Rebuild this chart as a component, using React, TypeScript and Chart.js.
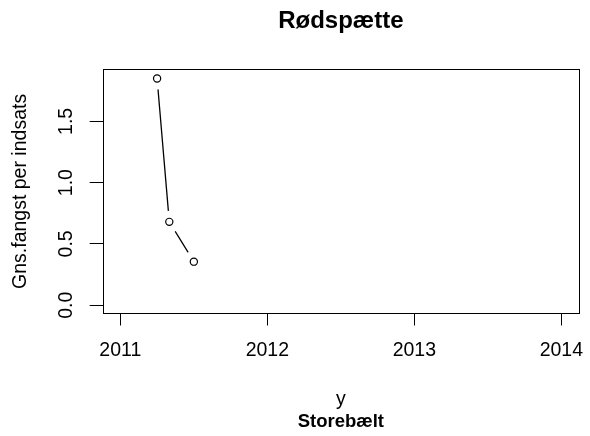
import React, { useEffect, useRef } from "react";
import { Chart, registerables } from "chart.js";

Chart.register(...registerables);

const titleText = "Rødspætte";
const yAxisTitle = "Gns.fangst per indsats";
const xAxisTitle = "y";
const subTitle = "Storebælt";
const xValues = [2011.25, 2011.333, 2011.5];
const yValues = [1.85, 0.68, 0.355];
const xTicks = [2011, 2012, 2013, 2014];
const yTicks = [0, 0.5, 1.0, 1.5];
const yTickLabels = ["0.0", "0.5", "1.0", "1.5"];

const FONT = "'Liberation Sans', Arial, sans-serif";
const X_MIN = 2010.88;
const X_MAX = 2014.12;

const boxPlugin = {
  id: "rbox",
  afterDraw(chart: any) {
    const { ctx, chartArea } = chart;
    ctx.save();
    ctx.strokeStyle = "#000";
    ctx.lineWidth = 1;
    ctx.strokeRect(
      Math.round(chartArea.left) + 0.5,
      Math.round(chartArea.top) + 0.5,
      Math.round(chartArea.right - chartArea.left),
      Math.round(chartArea.bottom - chartArea.top)
    );
    ctx.restore();
  },
};

const noPad = (s: any) => {
  s.paddingLeft = 0;
  s.paddingRight = 0;
};

const titleOnlyAxis = (
  position: string,
  text: string,
  font: any,
  padding: any,
  height: number,
  weight: number
) => ({
  type: "linear",
  position,
  weight,
  min: X_MIN,
  max: X_MAX,
  display: true,
  border: { display: false },
  grid: { display: false, drawTicks: false },
  ticks: { display: false },
  afterFit: (s: any) => {
    s.height = height;
    noPad(s);
  },
  title: { display: true, text, color: "#000", font, padding },
});

export default function App() {
  const ref = useRef<HTMLCanvasElement | null>(null);
  useEffect(() => {
    if (!ref.current) return;
    const pts = xValues.map((x, i) => ({ x, y: yValues[i] }));
    const chart = new Chart(ref.current, {
      type: "line",
      data: {
        datasets: [
          {
            data: pts,
            showLine: false,
            pointRadius: 3.6,
            pointStyle: "circle",
            pointBorderColor: "#000",
            pointBackgroundColor: "#fff",
            pointBorderWidth: 1.2,
            order: 0,
          },
          {
            data: pts,
            borderColor: "#000",
            borderWidth: 1.3,
            pointRadius: 11,
            pointBorderWidth: 0,
            pointBorderColor: "#fff",
            pointBackgroundColor: "#fff",
            order: 1,
          },
        ],
      },
      options: {
        animation: false,
        responsive: false,
        events: [],
        layout: { padding: { left: 0, right: 7, top: 0, bottom: 0 } },
        plugins: {
          legend: { display: false },
          tooltip: { enabled: false },
          title: { display: false },
        },
        scales: {
          x: {
            type: "linear",
            position: "bottom",
            weight: 0,
            min: X_MIN,
            max: X_MAX,
            afterBuildTicks: (s: any) => {
              s.ticks = xTicks.map((v) => ({ value: v }));
            },
            afterFit: (s: any) => {
              s.height = 97.5;
              noPad(s);
            },
            border: { display: false },
            grid: {
              drawOnChartArea: false,
              drawTicks: true,
              tickLength: 12,
              color: "#000",
              lineWidth: 1,
            },
            ticks: {
              color: "#000",
              padding: 13,
              maxRotation: 0,
              autoSkip: false,
              font: { family: FONT, size: 19.5, lineHeight: 1.2 },
              callback: (v: any) => String(v),
            },
            title: {
              display: true,
              text: xAxisTitle,
              color: "#000",
              font: { family: FONT, size: 19.5, lineHeight: 1.2 },
              padding: { top: 4, bottom: 0 },
            },
          },
          xsub: titleOnlyAxis(
            "bottom",
            subTitle,
            { family: FONT, size: 18.5, weight: "bold", lineHeight: 1.2 },
            { top: 0, bottom: 3.2 },
            25,
            1
          ),
          xmain: titleOnlyAxis(
            "top",
            titleText,
            { family: FONT, size: 24, weight: "bold", lineHeight: 1.2 },
            { top: 7.3, bottom: 0 },
            69.3,
            0
          ),
          y: {
            type: "linear",
            min: -0.068,
            max: 1.925,
            afterBuildTicks: (s: any) => {
              s.ticks = yTicks.map((v) => ({ value: v }));
            },
            afterFit: (s: any) => {
              s.width = 102.7;
            },
            border: { display: false },
            grid: {
              drawOnChartArea: false,
              drawTicks: true,
              tickLength: 13,
              color: "#000",
              lineWidth: 1,
            },
            ticks: {
              color: "#000",
              padding: 10,
              minRotation: 90,
              maxRotation: 90,
              crossAlign: "center",
              autoSkip: false,
              font: { family: FONT, size: 19.5, lineHeight: 1.2 },
              callback: (v: any) => {
                const i = yTicks.indexOf(Number(v));
                return i >= 0 ? yTickLabels[i] : "";
              },
            },
            title: {
              display: true,
              text: yAxisTitle,
              color: "#000",
              font: { family: FONT, size: 19.5, lineHeight: 1.2 },
              padding: { top: 8.8, bottom: 10 },
            },
          },
        },
      },
      plugins: [boxPlugin],
    } as any);
    return () => chart.destroy();
  }, []);
  return (
    <div style={{ position: "fixed", left: 0, top: 0, width: 590, height: 436, background: "#fff" }}>
      <canvas ref={ref} width={590} height={436} />
    </div>
  );
}
